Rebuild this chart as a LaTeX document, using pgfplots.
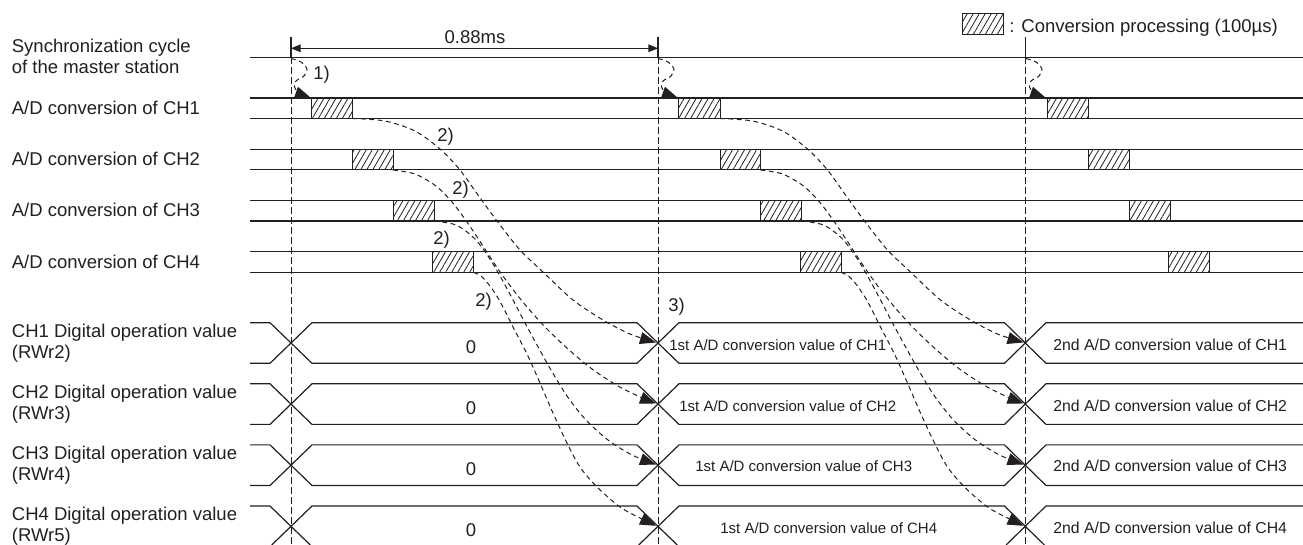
\documentclass[border=0pt]{standalone}
\usepackage{pgfplots}
\pgfplotsset{compat=1.18}
\usepackage{fontspec}
\setmainfont{Liberation Sans}
\usetikzlibrary{arrows.meta,patterns.meta}
\definecolor{ink}{RGB}{35,31,32}
\begin{document}
\begin{tikzpicture}[
  lab/.style={font=\fontsize{9.25}{11}\selectfont, text=ink, inner sep=0pt, anchor=base west},
  labc/.style={font=\fontsize{9.25}{11}\selectfont, text=ink, inner sep=0pt, anchor=base},
  vala/.style={font=\fontsize{7.5}{9}\selectfont, text=ink, inner sep=0pt, anchor=base west},
  valb/.style={font=\fontsize{7.9}{9}\selectfont, text=ink, inner sep=0pt, anchor=base west},
  sig/.style={ink, line width=0.6pt},
  hatch/.style={draw=ink, line width=0.5pt, pattern={Lines[angle=60,distance=2.6pt,line width=0.4pt]}, pattern color=ink},
  vd/.style={ink, line width=0.5pt, dash pattern=on 3.3pt off 1.7pt},
  cv/.style={ink, line width=0.5pt, dash pattern=on 2.4pt off 1.8pt, smooth, -{Triangle[length=8pt,width=6pt]}},
]
\begin{axis}[width=651.5pt,height=272.5pt,scale only axis,
  xmin=0,xmax=1303,ymin=0,ymax=545,y dir=reverse,hide axis,clip=false,no markers]

% ---------- top: sync line, dimension ----------
\addplot[sig] coordinates {(250,57.3) (1303,57.3)};
\addplot[sig] coordinates {(291,36.7) (291,57.3)};
\addplot[sig] coordinates {(658,36.7) (658,57.3)};
\addplot[sig] coordinates {(1025.5,37.5) (1025.5,57.3)};
\addplot[sig, {Triangle[length=4.8pt,width=3.8pt]}-{Triangle[length=4.8pt,width=3.8pt]}] coordinates {(291,48.3) (658,48.3)};
\node[labc] at (axis cs:475,43.3) {0.88ms};

% legend
\addplot[hatch] coordinates {(962.7,13.3) (1003.3,13.3) (1003.3,34.3) (962.7,34.3) (962.7,13.3)};
\node[lab] at (axis cs:1009,33) {: Conversion processing (100µs)};

% ---------- A/D rows ----------
\addplot[sig] coordinates {(250,98) (1303,98)};
\addplot[sig] coordinates {(250,118.5) (1303,118.5)};
\addplot[sig] coordinates {(250,149.3) (1303,149.3)};
\addplot[sig] coordinates {(250,169.8) (1303,169.8)};
\addplot[sig] coordinates {(250,200.6) (1303,200.6)};
\addplot[sig] coordinates {(250,221.1) (1303,221.1)};
\addplot[sig] coordinates {(250,251.9) (1303,251.9)};
\addplot[sig] coordinates {(250,272.4) (1303,272.4)};

% conversion boxes
\addplot[hatch] coordinates {(311.5,98) (352.5,98) (352.5,118.5) (311.5,118.5) (311.5,98)};
\addplot[hatch] coordinates {(352.5,149.3) (393,149.3) (393,169.8) (352.5,169.8) (352.5,149.3)};
\addplot[hatch] coordinates {(393,200.6) (434,200.6) (434,221.1) (393,221.1) (393,200.6)};
\addplot[hatch] coordinates {(432.5,251.9) (473.5,251.9) (473.5,272.4) (432.5,272.4) (432.5,251.9)};
\addplot[hatch] coordinates {(678.5,98) (720,98) (720,118.5) (678.5,118.5) (678.5,98)};
\addplot[hatch] coordinates {(720,149.3) (760.5,149.3) (760.5,169.8) (720,169.8) (720,149.3)};
\addplot[hatch] coordinates {(760.5,200.6) (801.5,200.6) (801.5,221.1) (760.5,221.1) (760.5,200.6)};
\addplot[hatch] coordinates {(800.5,251.9) (841.5,251.9) (841.5,272.4) (800.5,272.4) (800.5,251.9)};
\addplot[hatch] coordinates {(1047,98) (1088,98) (1088,118.5) (1047,118.5) (1047,98)};
\addplot[hatch] coordinates {(1088,149.3) (1129,149.3) (1129,169.8) (1088,169.8) (1088,149.3)};
\addplot[hatch] coordinates {(1129,200.6) (1170,200.6) (1170,221.1) (1129,221.1) (1129,200.6)};
\addplot[hatch] coordinates {(1168.5,251.9) (1209.5,251.9) (1209.5,272.4) (1168.5,272.4) (1168.5,251.9)};

% ---------- bus rows ----------
\addplot[sig] coordinates {(250,322.7) (270,322.7) (312,363.3) (637,363.3) (679,322.7) (1004.5,322.7) (1046,363.3) (1303,363.3)};
\addplot[sig] coordinates {(250,363.3) (270,363.3) (312,322.7) (637,322.7) (679,363.3) (1004.5,363.3) (1046,322.7) (1303,322.7)};
\addplot[sig] coordinates {(250,383.8) (270,383.8) (312,424.4) (637,424.4) (679,383.8) (1004.5,383.8) (1046,424.4) (1303,424.4)};
\addplot[sig] coordinates {(250,424.4) (270,424.4) (312,383.8) (637,383.8) (679,424.4) (1004.5,424.4) (1046,383.8) (1303,383.8)};
\addplot[sig] coordinates {(250,444.9) (270,444.9) (312,485.5) (637,485.5) (679,444.9) (1004.5,444.9) (1046,485.5) (1303,485.5)};
\addplot[sig] coordinates {(250,485.5) (270,485.5) (312,444.9) (637,444.9) (679,485.5) (1004.5,485.5) (1046,444.9) (1303,444.9)};
\addplot[sig] coordinates {(250,506) (270,506) (310.3,545)};
\addplot[sig] coordinates {(638.7,545) (679,506) (1004.5,506) (1044.4,545)};
\addplot[sig] coordinates {(271.7,545) (312,506) (637,506) (677.3,545)};
\addplot[sig] coordinates {(1006.1,545) (1046,506) (1303,506)};

% ---------- vertical dashed lines ----------
\addplot[vd] coordinates {(291,57.3) (291,545)};
\addplot[vd] coordinates {(658,57.3) (658,545)};
\addplot[vd] coordinates {(1025.5,57.3) (1025.5,545)};

% ---------- 1) loops ----------
\addplot[cv] coordinates {(291,58.5) (301,62) (307,69) (304,76) (296,81) (294.5,87) (299,93) (311,98)};
\addplot[cv] coordinates {(658,58.5) (668,62) (674,69) (671,76) (663,81) (661.5,87) (666,93) (678,98)};
\addplot[cv] coordinates {(1026,58.5) (1036,62) (1042,69) (1039,76) (1031,81) (1029.5,87) (1034,93) (1046,98)};

% ---------- 2) transfer curves, cycle 1 ----------
\addplot[cv] coordinates {(352.5,118.5) (385,121) (415,131) (440,149) (460,170) (478,195) (497,221) (520,250) (543,272) (573,300) (603,320) (630,334) (656,342.5)};
\addplot[cv] coordinates {(393,170) (415,174) (436,186) (452,202) (467,222) (481,243) (496,266) (511,287) (527,307) (546,328) (568,349) (592,369) (618,386) (640,397) (656,403.5)};
\addplot[cv] coordinates {(434,221) (456,225) (474,238) (488,256) (500,276) (512,298) (524,321) (537,345) (551,370) (567,396) (586,420) (608,440) (632,455) (656,464.5)};
\addplot[cv] coordinates {(473.5,272.4) (481,276) (490,286) (498,298) (506,313) (513,327) (527,354) (540,383) (553,413) (567,443) (580,467) (597,487) (620,507) (640,518) (656,525.8)};
% cycle 2
\addplot[cv] coordinates {(720,118.5) (752.5,121) (782.5,131) (807.5,149) (827.5,170) (845.5,195) (864.5,221) (887.5,250) (910.5,272) (940.5,300) (970.5,320) (997.5,334) (1023.5,342.5)};
\addplot[cv] coordinates {(760.5,170) (782.5,174) (803.5,186) (819.5,202) (834.5,222) (848.5,243) (863.5,266) (878.5,287) (894.5,307) (913.5,328) (935.5,349) (959.5,369) (985.5,386) (1007.5,397) (1023.5,403.5)};
\addplot[cv] coordinates {(801.5,221) (823.5,225) (841.5,238) (855.5,256) (867.5,276) (879.5,298) (891.5,321) (904.5,345) (918.5,370) (934.5,396) (953.5,420) (975.5,440) (999.5,455) (1023.5,464.5)};
\addplot[cv] coordinates {(841,272.4) (848.5,276) (857.5,286) (865.5,298) (873.5,313) (880.5,327) (894.5,354) (907.5,383) (920.5,413) (934.5,443) (947.5,467) (964.5,487) (987.5,507) (1007.5,518) (1023.5,525.8)};

% ---------- labels ----------
\node[lab] at (axis cs:11.5,52.7) {Synchronization cycle};
\node[lab] at (axis cs:11.5,74) {of the master station};
\node[lab] at (axis cs:11.5,114.3) {A/D conversion of CH1};
\node[lab] at (axis cs:11.5,165.6) {A/D conversion of CH2};
\node[lab] at (axis cs:11.5,216.9) {A/D conversion of CH3};
\node[lab] at (axis cs:11.5,268.2) {A/D conversion of CH4};

\node[lab] at (axis cs:11.5,337.5) {CH1 Digital operation value};
\node[lab] at (axis cs:11.5,358.5) {(RWr2)};
\node[lab] at (axis cs:11.5,398.6) {CH2 Digital operation value};
\node[lab] at (axis cs:11.5,419.6) {(RWr3)};
\node[lab] at (axis cs:11.5,459.7) {CH3 Digital operation value};
\node[lab] at (axis cs:11.5,480.7) {(RWr4)};
\node[lab] at (axis cs:11.5,520.8) {CH4 Digital operation value};
\node[lab] at (axis cs:11.5,541.8) {(RWr5)};

\node[lab] at (axis cs:313,80) {1)};
\node[lab] at (axis cs:437,141.7) {2)};
\node[lab] at (axis cs:452,195) {2)};
\node[lab] at (axis cs:433,245) {2)};
\node[lab] at (axis cs:475,306.7) {2)};
\node[lab] at (axis cs:668,312) {3)};

\node[labc] at (axis cs:471,354) {0};
\node[labc] at (axis cs:471,415) {0};
\node[labc] at (axis cs:471,476) {0};
\node[labc] at (axis cs:471,537) {0};

\node[vala] at (axis cs:669,350.7) {1st A/D conversion value of CH1};
\node[vala] at (axis cs:679,411.5) {1st A/D conversion value of CH2};
\node[vala] at (axis cs:695,472) {1st A/D conversion value of CH3};
\node[vala] at (axis cs:720,533) {1st A/D conversion value of CH4};

\node[valb] at (axis cs:1053,350.7) {2nd A/D conversion value of CH1};
\node[valb] at (axis cs:1053,411.5) {2nd A/D conversion value of CH2};
\node[valb] at (axis cs:1053,472) {2nd A/D conversion value of CH3};
\node[valb] at (axis cs:1053,533) {2nd A/D conversion value of CH4};
\end{axis}
\pgfresetboundingbox
\path[use as bounding box] (current axis.south west) rectangle (current axis.north east);
\end{tikzpicture}
\end{document}
